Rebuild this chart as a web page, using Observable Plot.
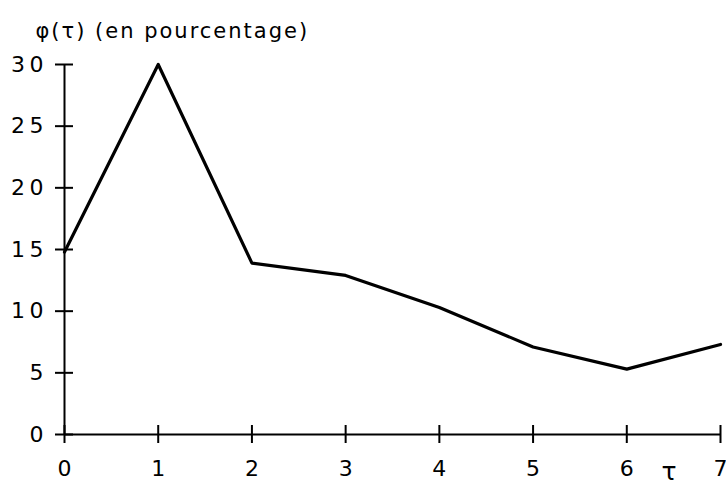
<!DOCTYPE html>
<html>
<head>
<meta charset="utf-8">
<script src="https://cdn.jsdelivr.net/npm/d3@7"></script>
<script src="https://cdn.jsdelivr.net/npm/@observablehq/plot@0.6"></script>
<style>
  html, body { margin: 0; padding: 0; background: #fff; }
  #chart g[aria-label="text"] text { letter-spacing: 2px; }
</style>
</head>
<body>
<div id="chart"></div>
<script>
const taus = [0, 1, 2, 3, 4, 5, 6, 7];
const phi = [14.8, 30, 13.9, 12.9, 10.3, 7.1, 5.3, 7.3];
const yTicks = [0, 5, 10, 15, 20, 25, 30];
const xTicks = [0, 1, 2, 3, 4, 5, 6, 7];
const titleText = "φ(τ) (en pourcentage)";
const xLabel = "τ";

const data = taus.map((t, i) => ({tau: t, phi: phi[i]}));
const font = "'DejaVu Sans', 'Liberation Sans', Arial, sans-serif";

const chart = Plot.plot({
  width: 726,
  height: 484,
  marginLeft: 64,
  marginRight: 6,
  marginTop: 64,
  marginBottom: 50,
  x: {domain: [0, 7], axis: null},
  y: {domain: [0, 30], axis: null},
  style: {fontFamily: font, fontSize: "22px", color: "#000", background: "#fff"},
  marks: [
    Plot.ruleY([0], {stroke: "#000", strokeWidth: 2}),
    Plot.ruleX([0], {stroke: "#000", strokeWidth: 2}),
    Plot.axisY({ticks: yTicks, tickSize: 18, dx: 9, strokeWidth: 2, stroke: "#000", tickFormat: () => "", label: null}),
    Plot.axisY({ticks: yTicks, tickSize: 0, tickPadding: 21, fontSize: 22, fill: "#000", label: null,
      tickFormat: d => String(d).split("").join("\u2009")}),
    Plot.axisX({ticks: xTicks, tickSize: 18, dy: -9, strokeWidth: 2, stroke: "#000", tickFormat: () => "", label: null}),
    Plot.axisX({ticks: xTicks, tickSize: 0, tickPadding: 26, fontSize: 22, fill: "#000", label: null,
      tickFormat: d => String(d)}),
    Plot.line(data, {x: "tau", y: "phi", stroke: "#000", strokeWidth: 3.2}),
    Plot.text([titleText], {frameAnchor: "top-left", lineAnchor: "middle", dx: -29, dy: -33, textAnchor: "start", fontSize: 21, fill: "#000"}),
    Plot.text([xLabel], {frameAnchor: "bottom-right", lineAnchor: "middle", dx: -42, dy: 37, fontSize: 25, fill: "#000"})
  ]
});
document.getElementById("chart").appendChild(chart);
</script>
</body>
</html>
